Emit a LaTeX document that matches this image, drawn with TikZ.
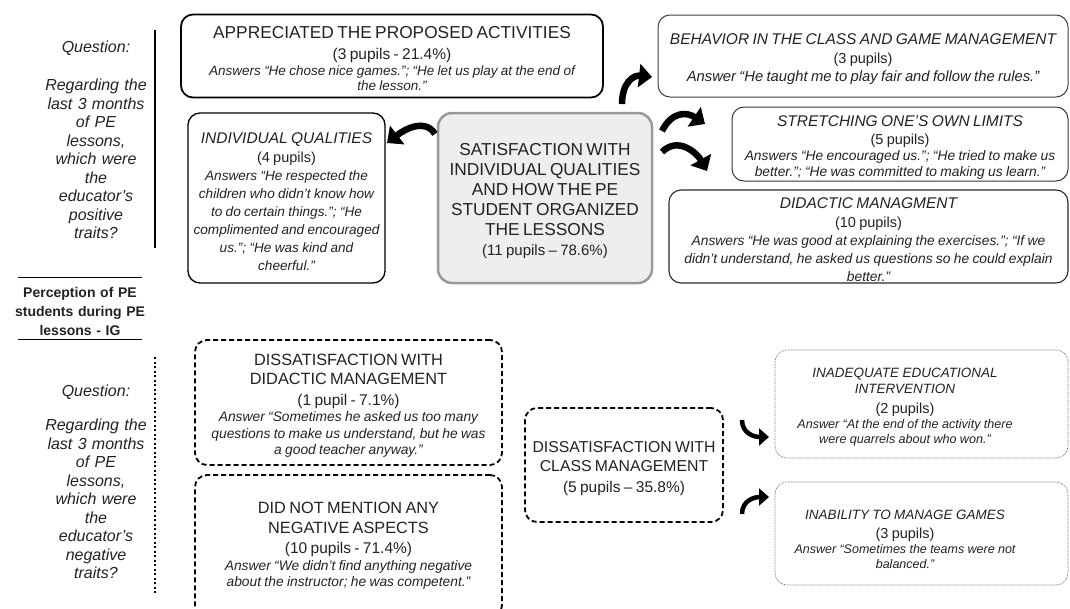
\documentclass[tikz,border=0pt]{standalone}
\usepackage{fontspec}
\setmainfont{Liberation Sans}
\usepackage{xcolor}
\usetikzlibrary{arrows.meta}

\definecolor{ink}{HTML}{222222}
\definecolor{satfill}{HTML}{EEEEEE}

\newcommand{\headfont}{\fontsize{15.5}{19}\selectfont}
\newcommand{\bighead}{\fontsize{17.3}{20}\selectfont}
\newcommand{\countfont}{\fontsize{14.5}{19}\selectfont\upshape}
\newcommand{\ansfont}{\fontsize{13.8}{16.5}\selectfont\itshape}
\newcommand{\dropdown}{\rule{0pt}{18pt}}

\begin{document}
\begin{tikzpicture}[x=1pt,y=-1pt,text=ink]
\tikzstyle{question}=[align=center, text width=130, inner sep=0, font=\fontsize{16}{18.5}\selectfont\itshape]
\tikzstyle{percep}=[align=center, text width=150, inner sep=0, font=\fontsize{14}{19}\selectfont\bfseries]
\tikzstyle{box}=[draw=black, line width=1.3pt, rounded corners=12pt, align=center, inner sep=0]
\tikzstyle{boxdash}=[box, line width=1.8pt, dash pattern=on 5pt off 3pt]
\tikzstyle{boxdot}=[box, draw=black!55, line width=0.7pt, dash pattern=on 0.8pt off 0.8pt]
\tikzstyle{curly}=[line width=6.5pt, -{Triangle[length=13pt, width=23pt]}]
\tikzstyle{curlysmall}=[line width=4.5pt, -{Triangle[length=10pt, width=17pt]}]

\useasboundingbox (0,0) rectangle (1070,608);

	%left column
	\node[question] (q_pos) at (96,140) {Question:\\[19.5pt] Regarding the\\ last 3 months\\ of PE\\ lessons,\\ which were\\ the\\ educator’s\\ positive\\ traits?};
	\node[percep] (percep) at (80,311) {Perception of PE\\ students during PE\\ lessons - IG};
	\node[question] (q_neg) at (96,482) {Question:\\[16pt] Regarding the\\ last 3 months\\ of PE\\ lessons,\\ which were\\ the\\ educator’s\\ negative\\ traits?};
	\draw[line width=2pt] (155,30) -- (155,248);
	\draw[line width=2pt, dash pattern=on 2pt off 2.5pt] (155,357) -- (155,593);
	\draw[line width=1pt] (18,277) -- (142,277);
	\draw[line width=1pt] (18,339) -- (142,339);

	%positive boxes
	\node[box, line width=1.8pt, minimum width=422, minimum height=83, text width=415] (appr) at (392,56)
	{{\bighead\dropdown APPRECIATED THE PROPOSED ACTIVITIES\par}{\fontsize{15.5}{21}\selectfont (3 pupils - 21.4\%)\par}{\fontsize{13.5}{15.5}\selectfont\itshape Answers “He chose nice games.”; “He let us play at the end of\\ the lesson.”\par}};
	\node[box, draw=black!75, line width=1pt, minimum width=410, minimum height=82, text width=405] (behav) at (863,56)
	{{\headfont\itshape\dropdown BEHAVIOR IN THE CLASS AND GAME MANAGEMENT\par}{\countfont (3 pupils)\par}{\fontsize{14.8}{18}\selectfont\itshape Answer “He taught me to play fair and follow the rules.”\par}};
	\node[box, minimum width=197, minimum height=170, text width=197] (indiv) at (286.5,198)
	{{\headfont\itshape\dropdown INDIVIDUAL QUALITIES\par}{\countfont (4 pupils)\par}{\fontsize{13.6}{18}\selectfont\itshape Answers “He respected the\\ children who didn’t know how\\ to do certain things.”; “He\\ complimented and encouraged\\ us.”; “He was kind and\\ cheerful.”\par}};
	\node[box, draw=black!40, fill=satfill, line width=2.5pt, rounded corners=14pt, minimum width=214, minimum height=170, text width=210] (sat) at (545,198)
	{{\bighead\dropdown SATISFACTION WITH\\ INDIVIDUAL QUALITIES\\ AND HOW THE PE\\ STUDENT ORGANIZED\\ THE LESSONS\par}{\fontsize{15}{19.5}\selectfont (11 pupils – 78.6\%)\par}};
	\node[box, draw=black!80, line width=1pt, minimum width=336, minimum height=74, text width=333] (stretch) at (900,144)
	{{\headfont\itshape\dropdown STRETCHING ONE’S OWN LIMITS\par}{\fontsize{14.5}{17.5}\selectfont\upshape (5 pupils)\par}{\fontsize{13.8}{16}\selectfont\itshape Answers “He encouraged us.”; “He tried to make us\\ better.”; “He was committed to making us learn.”\par}};
	\node[box, draw=black!85, line width=1.1pt, minimum width=399, minimum height=93, text width=395] (didac) at (868.5,236.5)
	{{\headfont\itshape\dropdown DIDACTIC MANAGMENT\par}{\countfont (10 pupils)\par}{\fontsize{13.8}{18}\selectfont\itshape Answers “He was good at explaining the exercises.”; “If we\\ didn’t understand, he asked us questions so he could explain\\ better.”\par}};

	%negative boxes
	\node[boxdash, minimum width=307, minimum height=125, text width=303] (dis_did) at (348.5,402.5)
	{{\fontsize{16.3}{19.5}\selectfont\dropdown DISSATISFACTION WITH\\ DIDACTIC MANAGEMENT\par}{\fontsize{15.5}{20.5}\selectfont (1 pupil - 7.1\%)\par}{\ansfont Answer “Sometimes he asked us too many\\ questions to make us understand, but he was\\ a good teacher anyway.”\par}};
	\node[boxdash, minimum width=307, minimum height=142, text width=303] (no_neg) at (348.5,546)
	{{\fontsize{16.3}{19.5}\selectfont DID NOT MENTION ANY\\ NEGATIVE ASPECTS\par}{\fontsize{15.5}{20.5}\selectfont (10 pupils - 71.4\%)\par}{\ansfont Answer “We didn’t find anything negative\\ about the instructor; he was competent.”\par}};
	\node[boxdash, minimum width=198, minimum height=114, text width=196] (dis_class) at (624,465)
	{{\fontsize{15.8}{19.5}\selectfont\dropdown DISSATISFACTION WITH\\ CLASS MANAGEMENT\par}{\fontsize{15.5}{21}\selectfont (5 pupils – 35.8\%)\par}};
	\node[boxdot, minimum width=293, minimum height=108] (inadeq) at (921.5,404) {};
	\node[align=center, text width=250, inner sep=0] (inadeq_txt) at (905,407)
	{{\fontsize{13.5}{15.5}\selectfont\itshape INADEQUATE EDUCATIONAL\\ INTERVENTION\par}{\fontsize{14.5}{20}\selectfont\upshape (2 pupils)\par}{\fontsize{12.6}{15}\selectfont\itshape Answer “At the end of the activity there\\ were quarrels about who won.”\par}};
	\node[boxdot, minimum width=293, minimum height=103] (inab) at (921.5,533.5) {};
	\node[align=center, text width=250, inner sep=0] (inab_txt) at (905,539)
	{{\fontsize{13.5}{19}\selectfont\itshape INABILITY TO MANAGE GAMES\par}{\countfont (3 pupils)\par}{\fontsize{12.5}{15}\selectfont\itshape Answer “Sometimes the teams were not\\ balanced.”\par}};

	%arrows
	\coordinate (a_behav_s) at (622,104);
	\coordinate (a_behav_e) at (652,77);
	\coordinate (a_indiv_s) at (435,134);
	\coordinate (a_indiv_e) at (387,143);
	\coordinate (a_stretch_s) at (662,131);
	\coordinate (a_stretch_e) at (705,124);
	\coordinate (a_didac_s) at (662,152);
	\coordinate (a_didac_e) at (707,171);
	\coordinate (a_inadeq_s) at (742,420);
	\coordinate (a_inadeq_e) at (769,437);
	\coordinate (a_inab_s) at (742,514);
	\coordinate (a_inab_e) at (769,497);
	\draw[curly] (a_behav_s) .. controls +(0,-22) and +(-18,-2) .. (a_behav_e);
	\draw[curly] (a_indiv_s) .. controls +(-10,-16) and +(18,-14) .. (a_indiv_e);
	\draw[curly] (a_stretch_s) .. controls +(10,-20) and +(-18,-12) .. (a_stretch_e);
	\draw[curly] (a_didac_s) .. controls +(16,-16) and +(-10,-18) .. (a_didac_e);
	\draw[curlysmall] (a_inadeq_s) .. controls +(0,14) and +(-14,0) .. (a_inadeq_e);
	\draw[curlysmall] (a_inab_s) .. controls +(0,-14) and +(-14,0) .. (a_inab_e);

\end{tikzpicture}
\end{document}
